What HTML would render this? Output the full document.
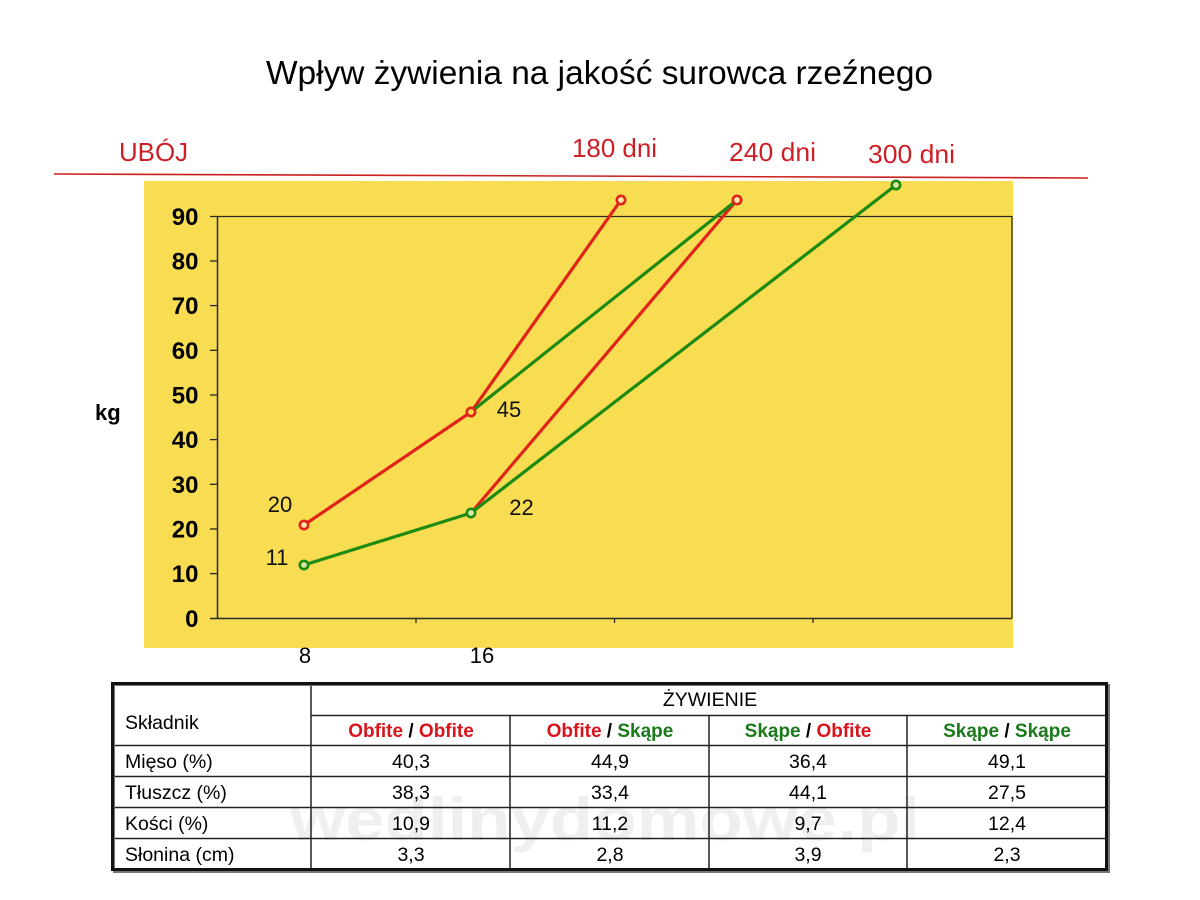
<!DOCTYPE html>
<html>
<head>
<meta charset="utf-8">
<style>
  html, body { margin:0; padding:0; background:#ffffff; }
  svg { display:block; }
  text { font-family: "Liberation Sans", Arial, sans-serif; }
</style>
</head>
<body>
<svg width="1200" height="900" viewBox="0 0 1200 900" xmlns="http://www.w3.org/2000/svg">
  <rect x="0" y="0" width="1200" height="900" fill="#ffffff"/>

  <!-- Title -->
  <text x="266" y="84" font-size="33" fill="#000" textLength="667" lengthAdjust="spacingAndGlyphs">Wpływ żywienia na jakość surowca rzeźnego</text>

  <!-- Header labels -->
  <text x="119" y="161" font-size="26" fill="#cc1f26" textLength="69" lengthAdjust="spacingAndGlyphs">UBÓJ</text>
  <text x="572" y="157" font-size="26" fill="#cc1f26" textLength="85" lengthAdjust="spacingAndGlyphs">180 dni</text>
  <text x="729" y="161" font-size="26" fill="#cc1f26" textLength="87" lengthAdjust="spacingAndGlyphs">240 dni</text>
  <text x="868" y="163" font-size="26" fill="#cc1f26" textLength="87" lengthAdjust="spacingAndGlyphs">300 dni</text>
  <line x1="54" y1="174" x2="1088" y2="178" stroke="#cc2020" stroke-width="1.6"/>

  <!-- Yellow chart background -->
  <rect x="144" y="181" width="869" height="467" fill="#f8dc52"/>

  <!-- Plot frame -->
  <line x1="217" y1="216.5" x2="1012" y2="216.5" stroke="#2a2a2a" stroke-width="1.3"/>
  <line x1="1012" y1="216" x2="1012" y2="618" stroke="#2a2a2a" stroke-width="1.3"/>
  <line x1="217.5" y1="216" x2="217.5" y2="619" stroke="#2a2a2a" stroke-width="1.5"/>
  <line x1="210" y1="618.5" x2="1012" y2="618.5" stroke="#2a2a2a" stroke-width="1.5"/>

  <!-- Y ticks -->
  <g stroke="#2a2a2a" stroke-width="1.3">
    <line x1="210" y1="216.5" x2="217" y2="216.5"/>
    <line x1="210" y1="261" x2="217" y2="261"/>
    <line x1="210" y1="305.6" x2="217" y2="305.6"/>
    <line x1="210" y1="350.3" x2="217" y2="350.3"/>
    <line x1="210" y1="395" x2="217" y2="395"/>
    <line x1="210" y1="439.6" x2="217" y2="439.6"/>
    <line x1="210" y1="484.3" x2="217" y2="484.3"/>
    <line x1="210" y1="529" x2="217" y2="529"/>
    <line x1="210" y1="573.6" x2="217" y2="573.6"/>
    <!-- x ticks -->
    <line x1="416" y1="618" x2="416" y2="623"/>
    <line x1="614.5" y1="618" x2="614.5" y2="623"/>
    <line x1="813" y1="618" x2="813" y2="623"/>
  </g>

  <!-- Y labels -->
  <g font-size="24" font-weight="bold" fill="#000" text-anchor="end">
    <text x="198.5" y="225">90</text>
    <text x="198.5" y="269.5">80</text>
    <text x="198.5" y="314">70</text>
    <text x="198.5" y="359">60</text>
    <text x="198.5" y="403.5">50</text>
    <text x="198.5" y="448">40</text>
    <text x="198.5" y="493">30</text>
    <text x="198.5" y="537.5">20</text>
    <text x="198.5" y="582">10</text>
    <text x="198.5" y="627">0</text>
  </g>
  <text x="95" y="420" font-size="22" font-weight="bold" fill="#000">kg</text>

  <!-- X labels -->
  <g font-size="22" fill="#000" text-anchor="middle">
    <text x="305" y="663">8</text>
    <text x="482" y="663">16</text>
  </g>

  <!-- Series lines -->
  <g fill="none" stroke-width="3.2" stroke-linejoin="round" stroke-linecap="round">
    <polyline points="304,525 471,412 621,200" stroke="#e0241a"/>
    <polyline points="471,513 737,200" stroke="#e0241a"/>
    <polyline points="471,412 737,200" stroke="#1d8a12"/>
    <polyline points="304,565 471,513 896,185" stroke="#1d8a12"/>
  </g>

  <!-- Markers -->
  <g stroke-width="2.6">
    <circle cx="304" cy="525" r="4.2" fill="#fbe6a8" stroke="#e0241a"/>
    <circle cx="471" cy="412" r="4.2" fill="#f8dc52" stroke="#e0241a"/>
    <circle cx="621" cy="200" r="4.2" fill="#fbe6a8" stroke="#e0241a"/>
    <circle cx="737" cy="200" r="4.2" fill="#fbe6a8" stroke="#e0241a"/>
    <circle cx="304" cy="565" r="4.2" fill="#d8e8a0" stroke="#1d8a12"/>
    <circle cx="471" cy="513" r="4.2" fill="#d8e8a0" stroke="#1d8a12"/>
    <circle cx="896" cy="185" r="4.2" fill="#d8e8a0" stroke="#1d8a12"/>
  </g>

  <!-- Data labels -->
  <g font-size="22" fill="#111" text-anchor="middle">
    <text x="280" y="512">20</text>
    <text x="277" y="565">11</text>
    <text x="509" y="417">45</text>
    <text x="521.5" y="515">22</text>
  </g>

  <!-- Table -->
  <rect x="112" y="683" width="995" height="187" fill="#ffffff"/>
  <!-- watermark -->
  <text x="290" y="840" font-size="60" font-weight="bold" fill="#efefef" textLength="630" lengthAdjust="spacingAndGlyphs">wedlinydomowe.pl</text>

  <g stroke="#222" stroke-width="1.5">
    <!-- horizontal lines -->
    <line x1="311" y1="715.5" x2="1107" y2="715.5"/>
    <line x1="112" y1="745.5" x2="1107" y2="745.5"/>
    <line x1="112" y1="776.5" x2="1107" y2="776.5"/>
    <line x1="112" y1="807.5" x2="1107" y2="807.5"/>
    <line x1="112" y1="838.5" x2="1107" y2="838.5"/>
    <!-- vertical lines -->
    <line x1="311" y1="683" x2="311" y2="870"/>
    <line x1="510" y1="715" x2="510" y2="870"/>
    <line x1="709" y1="715" x2="709" y2="870"/>
    <line x1="907" y1="715" x2="907" y2="870"/>
  </g>
  <!-- outer border with slight shadow -->
  <rect x="114" y="685" width="995" height="187" fill="none" stroke="#777" stroke-width="2"/>
  <rect x="112.5" y="683.5" width="994" height="186" fill="none" stroke="#111" stroke-width="3"/>

  <!-- Table text -->
  <g font-size="19.5" fill="#000">
    <text x="125" y="729">Składnik</text>
    <text x="710" y="706" text-anchor="middle">ŻYWIENIE</text>

    <text x="125" y="768">Mięso (%)</text>
    <text x="125" y="799">Tłuszcz (%)</text>
    <text x="125" y="830">Kości (%)</text>
    <text x="125" y="861">Słonina (cm)</text>

    <g text-anchor="middle">
      <text x="411" y="768">40,3</text>
      <text x="610" y="768">44,9</text>
      <text x="808" y="768">36,4</text>
      <text x="1007" y="768">49,1</text>

      <text x="411" y="799">38,3</text>
      <text x="610" y="799">33,4</text>
      <text x="808" y="799">44,1</text>
      <text x="1007" y="799">27,5</text>

      <text x="411" y="830">10,9</text>
      <text x="610" y="830">11,2</text>
      <text x="808" y="830">9,7</text>
      <text x="1007" y="830">12,4</text>

      <text x="411" y="861">3,3</text>
      <text x="610" y="861">2,8</text>
      <text x="808" y="861">3,9</text>
      <text x="1007" y="861">2,3</text>
    </g>
  </g>

  <g font-size="19" font-weight="bold" text-anchor="middle">
    <text x="411" y="737"><tspan fill="#d8141c">Obfite</tspan><tspan fill="#000"> / </tspan><tspan fill="#d8141c">Obfite</tspan></text>
    <text x="610" y="737"><tspan fill="#d8141c">Obfite</tspan><tspan fill="#000"> / </tspan><tspan fill="#1a7a1a">Skąpe</tspan></text>
    <text x="808" y="737"><tspan fill="#1a7a1a">Skąpe</tspan><tspan fill="#000"> / </tspan><tspan fill="#d8141c">Obfite</tspan></text>
    <text x="1007" y="737"><tspan fill="#1a7a1a">Skąpe</tspan><tspan fill="#000"> / </tspan><tspan fill="#1a7a1a">Skąpe</tspan></text>
  </g>
</svg>
</body>
</html>
